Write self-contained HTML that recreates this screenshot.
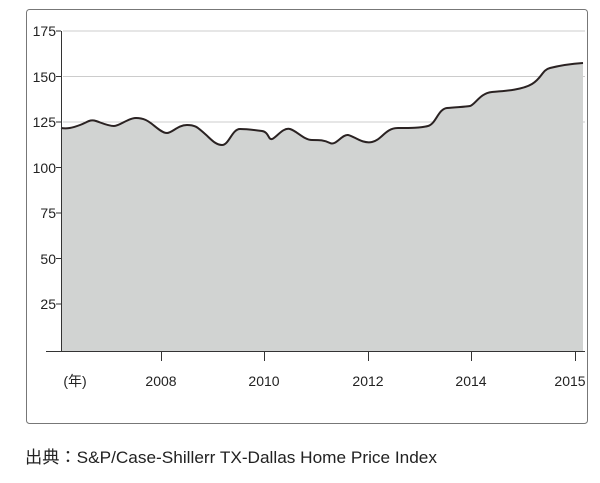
<!DOCTYPE html>
<html><head><meta charset="utf-8"><style>
body{margin:0;background:#fff;width:600px;height:478px;overflow:hidden}
text{font-family:"Liberation Sans","Noto Sans CJK JP",sans-serif;fill:#222}
</style></head><body>
<svg width="600" height="478" viewBox="0 0 600 478">
<rect x="26.5" y="9.5" width="561" height="414" rx="3" fill="#fff" stroke="#777" stroke-width="1"/>
<g stroke="#ccc" stroke-width="1">
<line x1="63" y1="31" x2="585" y2="31"/><line x1="63" y1="76.5" x2="585" y2="76.5"/><line x1="63" y1="122" x2="585" y2="122"/>
</g>
<path d="M61,128 C67,129 72,128 80,125 S90,119 96,121 S108,126 114,126 S128,118 136,118 S148,121 152,124 S162,133 167,133 S178,125 187,125 S198,128 204,133 S215,145 222,145 S232,129 240,129 S255,130 262,131 S268,140 272,139 S283,127 290,129 S304,140 312,140 S324,140 330,143 S342,134 348,135 S362,144 372,142 S385,128 398,128 S420,128 428,126 S438,109 447,108 S465,107 470,106 S480,93 492,92 S522,90 532,84 S542,70 550,68 S568,64 583,63 L583,351 L61,351 Z" fill="#d1d3d2"/>
<path d="M61,128 C67,129 72,128 80,125 S90,119 96,121 S108,126 114,126 S128,118 136,118 S148,121 152,124 S162,133 167,133 S178,125 187,125 S198,128 204,133 S215,145 222,145 S232,129 240,129 S255,130 262,131 S268,140 272,139 S283,127 290,129 S304,140 312,140 S324,140 330,143 S342,134 348,135 S362,144 372,142 S385,128 398,128 S420,128 428,126 S438,109 447,108 S465,107 470,106 S480,93 492,92 S522,90 532,84 S542,70 550,68 S568,64 583,63" fill="none" stroke="#2a2222" stroke-width="2"/>
<g stroke="#333" stroke-width="1">
<line x1="61.5" y1="31" x2="61.5" y2="351"/>
<line x1="46" y1="351.5" x2="585" y2="351.5"/>
<line x1="56" y1="31" x2="61" y2="31"/><line x1="56" y1="76.5" x2="61" y2="76.5"/><line x1="56" y1="122" x2="61" y2="122"/><line x1="56" y1="167.5" x2="61" y2="167.5"/><line x1="56" y1="213" x2="61" y2="213"/><line x1="56" y1="258.5" x2="61" y2="258.5"/><line x1="56" y1="304" x2="61" y2="304"/>
<line x1="161.5" y1="351" x2="161.5" y2="361"/><line x1="264.5" y1="351" x2="264.5" y2="361"/><line x1="368.5" y1="351" x2="368.5" y2="361"/><line x1="471.5" y1="351" x2="471.5" y2="361"/><line x1="575.5" y1="351" x2="575.5" y2="361"/>
</g>
<g font-size="14" text-anchor="end">
<text x="56" y="36">175</text><text x="56" y="82">150</text><text x="56" y="127">125</text><text x="56" y="173">100</text><text x="56" y="218">75</text><text x="56" y="264">50</text><text x="56" y="309">25</text>
</g>
<g font-size="14" text-anchor="middle">
<text x="75" y="386">(年)</text><text x="161" y="386">2008</text><text x="264" y="386">2010</text><text x="368" y="386">2012</text><text x="471" y="386">2014</text><text x="570" y="386">2015</text>
</g>
<text x="25" y="463" font-size="17" textLength="412" lengthAdjust="spacingAndGlyphs">出典：S&amp;P/Case-Shillerr TX-Dallas Home Price Index</text>
</svg>
</body></html>
